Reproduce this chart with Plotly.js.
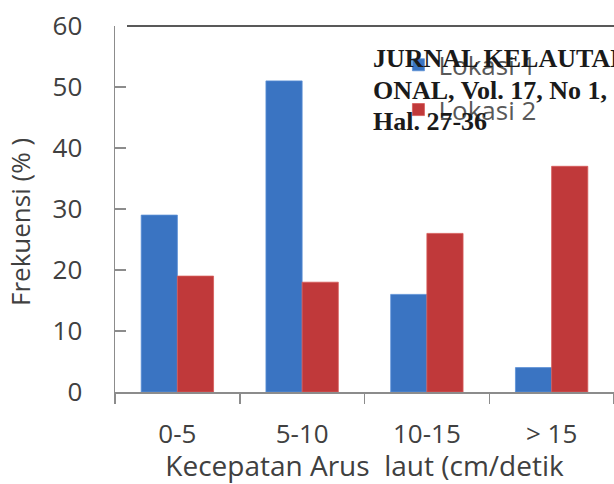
<!DOCTYPE html>
<html>
<head>
<meta charset="utf-8">
<script src="https://cdn.plot.ly/plotly-3.0.1.min.js"></script>
<style>html,body{margin:0;padding:0;background:#fff;}#chart{width:614px;height:484px;}</style>
</head>
<body>
<div id="chart"></div>
<script>
const categories = ["0-5", "5-10", "10-15", "> 15"];
const lokasi1 = [29, 51, 16, 4];
const lokasi2 = [19, 18, 26, 37];
const seriesNames = ["Lokasi 1", "Lokasi 2"];
const yTicks = [0, 10, 20, 30, 40, 50, 60];
const overlayLines = ["JURNAL KELAUTAN NASI", "ONAL, Vol. 17, No 1,", "Hal. 27-36"];

const font = "Open Sans, Liberation Sans, sans-serif";
const traces = [
  {type: "bar", x: categories, y: lokasi1, name: seriesNames[0], legendgroup: "a",
   marker: {color: "#3a74c2", line: {color: "#5b8fd6", width: 0.8}}},
  {type: "bar", x: categories, y: lokasi2, name: seriesNames[1], legendgroup: "b",
   marker: {color: "#c0393a", line: {color: "#d65a58", width: 0.8}}}
];

const px2x = p => (p - 115) / 499;
const px2y = p => (392 - p) / 366;

const annotations = overlayLines.map((t, i) => ({
  xref: "paper", yref: "paper", x: px2x(371), y: px2y(59 + i * 31.5),
  xanchor: "left", yanchor: "middle", align: "left", showarrow: false,
  text: "<b>" + t + "</b>",
  font: {family: "Liberation Serif, Times New Roman, serif", size: 26, color: "#1a1a1a"}
}));
annotations.push({
  xref: "paper", yref: "paper", x: px2x(20), y: px2y(222), xanchor: "center", yanchor: "middle",
  textangle: -90, showarrow: false, text: "Frekuensi (% )",
  font: {family: font, size: 26, color: "#404040"}
});

const layout = {
  width: 614, height: 484,
  margin: {l: 115, r: 0, t: 26, b: 92},
  paper_bgcolor: "#fff", plot_bgcolor: "#fff",
  barmode: "group", bargap: 0.42, bargroupgap: 0,
  font: {family: font, color: "#404040", size: 26},
  showlegend: true,
  legend: {x: 0.568, xanchor: "left", y: 0.958, yanchor: "top",
           font: {family: font, size: 26, color: "#595959"},
           bgcolor: "rgba(0,0,0,0)", tracegroupgap: 8},
  xaxis: {type: "category", showgrid: false, showline: true, linecolor: "#8c8c8c", linewidth: 1.5,
          ticks: "outside", tickson: "boundaries", ticklen: 10, tickcolor: "#8c8c8c", tickwidth: 1.5,
          ticklabelstandoff: 18,
          tickfont: {family: font, size: 26, color: "#404040"},
          title: {text: "Kecepatan Arus  laut (cm/detik", standoff: 0,
                  font: {family: font, size: 28, color: "#404040"}}},
  yaxis: {range: [0, 60], tickvals: yTicks, showgrid: false, zeroline: false, showline: true,
          linecolor: "#8c8c8c", linewidth: 1.5, ticks: "inside", ticklen: 11, tickcolor: "#8c8c8c", tickwidth: 1.5,
          ticklabelstandoff: 26,
          tickfont: {family: font, size: 26, color: "#404040"}},
  shapes: [
    {type: "line", xref: "paper", yref: "paper", x0: 0.024, x1: 1.01, y0: 1, y1: 1,
     line: {color: "#222", width: 1.5}}
  ],
  annotations: annotations
};

Plotly.newPlot("chart", traces, layout, {displayModeBar: false, staticPlot: true});
</script>
</body>
</html>
